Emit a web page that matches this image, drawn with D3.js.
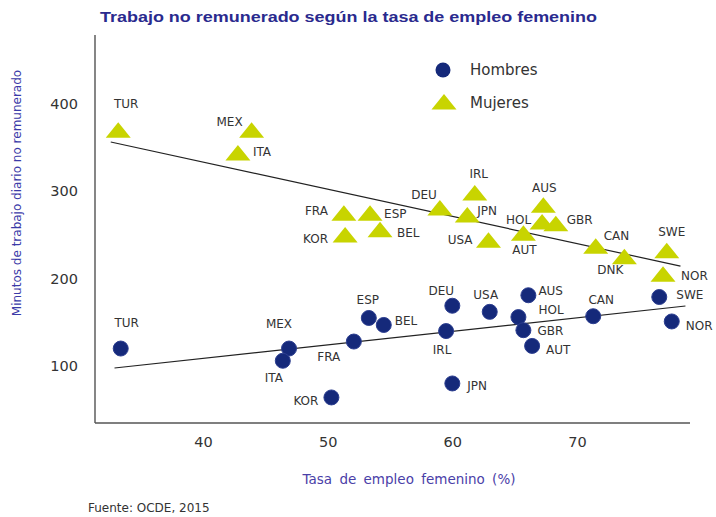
<!DOCTYPE html>
<html><head><meta charset="utf-8">
<script src="https://cdn.jsdelivr.net/npm/d3@7"></script>
<style>body{margin:0;background:#fff}svg{display:block}</style>
</head><body>
<script>
// ---- Data ----
const countriesWomen = ["TUR","MEX","ITA","FRA","ESP","KOR","BEL","DEU","IRL","JPN","USA","HOL","AUS","GBR","AUT","CAN","DNK","SWE","NOR"];
const womenEmployment = [33.2,43.9,42.8,51.3,53.4,51.4,54.2,59.0,61.8,61.2,62.9,67.2,67.3,68.3,65.7,71.5,73.8,77.2,76.9];
const womenMinutes    = [370,370,344,275,275,250,256,281,298,273,244,265,284,263,252,237,225,232,205];

const countriesMen = ["TUR","MEX","ITA","FRA","ESP","BEL","KOR","DEU","USA","AUS","HOL","GBR","AUT","IRL","JPN","CAN","SWE","NOR"];
const menEmployment = [33.4,46.9,46.4,52.1,53.3,54.5,50.3,60.0,63.0,66.1,65.3,65.7,66.4,59.5,60.0,71.3,76.6,77.6];
const menMinutes    = [120,120,106,128,155,147,64,169,162,181,156,141,123,140,80,157,179,151];

const trendWomenX = [32.6,78.3], trendWomenY = [356.5,214.4];
const trendMenX   = [32.9,78.7], trendMenY   = [97.7,168.7];

const xTicks = [40,50,60,70];
const yTicks = [100,200,300,400];

// ---- Label placement (layout only) ----
const womenLabelPos = {
 TUR:[8,-27,"middle"], MEX:[-9,-9,"end"], ITA:[15,-1,"start"], FRA:[-16,-2,"end"], ESP:[14,1,"start"],
 KOR:[-17,4,"end"], BEL:[17,3,"start"], DEU:[-3,-13,"end"], IRL:[4,-19,"middle"], JPN:[10,-4,"start"],
 USA:[-16,-1,"end"], HOL:[-11,-2,"end"], AUS:[1,-18,"middle"], GBR:[11,-4,"start"], AUT:[1,16,"middle"],
 CAN:[8,-11,"start"], DNK:[-14,13,"middle"], SWE:[5,-19,"middle"], NOR:[18,1,"start"]};
const menLabelPos = {
 TUR:[6,-26,"middle"], MEX:[-10,-25,"middle"], ITA:[-9,17,"middle"], FRA:[-25,15,"middle"], ESP:[-1,-18,"middle"],
 BEL:[11,-4,"start"], KOR:[-13,3,"end"], DEU:[-11,-15,"middle"], USA:[-4,-17,"middle"], AUS:[10,-5,"start"],
 HOL:[20,-7,"start"], GBR:[14,0,"start"], AUT:[14,4,"start"], IRL:[-4,19,"middle"], JPN:[15,2,"start"],
 CAN:[8,-17,"middle"], SWE:[17,-2,"start"], NOR:[14,4,"start"]};

const W = 716, H = 517;
const svg = d3.select("body").append("svg").attr("width", W).attr("height", H)
  .style("font-family", "'DejaVu Sans', sans-serif");

const x = d3.scaleLinear().domain([40,70]).range([203,577]);
const y = d3.scaleLinear().domain([100,400]).range([366,104]);

const frameLeft = 95, frameBottom = 423, frameTop = 35, frameRight = 690;

// Title
svg.append("text").attr("x", 100).attr("y", 22)
  .attr("font-family","'Liberation Sans', Arial, sans-serif")
  .attr("font-weight","bold").attr("font-size",15.5).attr("fill","#2a2a8e")
  .attr("textLength", 497).attr("lengthAdjust","spacingAndGlyphs")
  .text("Trabajo no remunerado según la tasa de empleo femenino");

// Axes frame
svg.append("line").attr("x1",frameLeft).attr("x2",frameLeft).attr("y1",frameTop).attr("y2",frameBottom)
  .attr("stroke","#444").attr("stroke-width",1.3);
svg.append("line").attr("x1",frameLeft).attr("x2",frameRight).attr("y1",frameBottom).attr("y2",frameBottom)
  .attr("stroke","#555").attr("stroke-width",1.3);

// Axes ticks via d3 axes
const xAxis = svg.append("g").attr("transform",`translate(0,${frameBottom+11})`)
  .call(d3.axisBottom(x).tickValues(xTicks).tickSize(0).tickFormat(d3.format("d")));
xAxis.select(".domain").remove();
xAxis.selectAll("text").attr("font-size",14.5).attr("fill","#333").attr("font-family","'DejaVu Sans', sans-serif");

const yAxis = svg.append("g").attr("transform",`translate(${frameLeft-14},0)`)
  .call(d3.axisLeft(y).tickValues(yTicks).tickSize(0).tickFormat(d3.format("d")));
yAxis.select(".domain").remove();
yAxis.selectAll("text").attr("font-size",14.5).attr("fill","#333").attr("font-family","'DejaVu Sans', sans-serif");

// Axis titles
svg.append("text").attr("transform","translate(21,193) rotate(-90)")
  .attr("text-anchor","middle").attr("font-size",12).attr("fill","#3b3aa8")
  .text("Minutos de trabajo diario no remunerado");
svg.append("text").attr("x",409).attr("y",484).attr("text-anchor","middle")
  .attr("font-size",13.5).attr("fill","#4a40a8").attr("word-spacing","3px")
  .text("Tasa de empleo femenino (%)");
svg.append("text").attr("x",88).attr("y",512).attr("font-size",12).attr("fill","#333")
  .text("Fuente: OCDE, 2015");

// Trend lines
const line = d3.line().x(d=>x(d[0])).y(d=>y(d[1]));
svg.append("path").attr("d", line(trendWomenX.map((v,i)=>[v,trendWomenY[i]])))
  .attr("stroke","#222").attr("stroke-width",1.2).attr("fill","none");
svg.append("path").attr("d", line(trendMenX.map((v,i)=>[v,trendMenY[i]])))
  .attr("stroke","#222").attr("stroke-width",1.2).attr("fill","none");

const triPath = "M0,-8L12.5,7.5L-12.5,7.5Z";
const triColor = "#c8d400", circColor = "#15297a";

const women = countriesWomen.map((c,i)=>({c, x:womenEmployment[i], y:womenMinutes[i]}));
const men = countriesMen.map((c,i)=>({c, x:menEmployment[i], y:menMinutes[i]}));

svg.append("g").selectAll("path").data(women).join("path")
  .attr("d", triPath).attr("transform", d=>`translate(${x(d.x)},${y(d.y)})`)
  .attr("fill", triColor);
svg.append("g").selectAll("circle").data(men).join("circle")
  .attr("cx", d=>x(d.x)).attr("cy", d=>y(d.y)).attr("r",7.5)
  .attr("fill", circColor).attr("stroke","#2b3d8f").attr("stroke-width",1);

function labels(data, pos){
  svg.append("g").selectAll("text").data(data).join("text")
    .attr("x", d=>x(d.x)+pos[d.c][0]).attr("y", d=>y(d.y)+pos[d.c][1])
    .attr("dy","0.36em").attr("text-anchor", d=>pos[d.c][2])
    .attr("font-size",12).attr("fill","#333").text(d=>d.c);
}
labels(women, womenLabelPos);
labels(men, menLabelPos);

// Legend
svg.append("circle").attr("cx",443).attr("cy",70).attr("r",7.5).attr("fill",circColor);
svg.append("path").attr("d",triPath).attr("transform","translate(444,102)").attr("fill",triColor);
svg.append("text").attr("x",470).attr("y",70).attr("dy","0.36em").attr("font-size",15).attr("fill","#333").text("Hombres");
svg.append("text").attr("x",470).attr("y",103).attr("dy","0.36em").attr("font-size",15).attr("fill","#333").text("Mujeres");
</script>
</body></html>
